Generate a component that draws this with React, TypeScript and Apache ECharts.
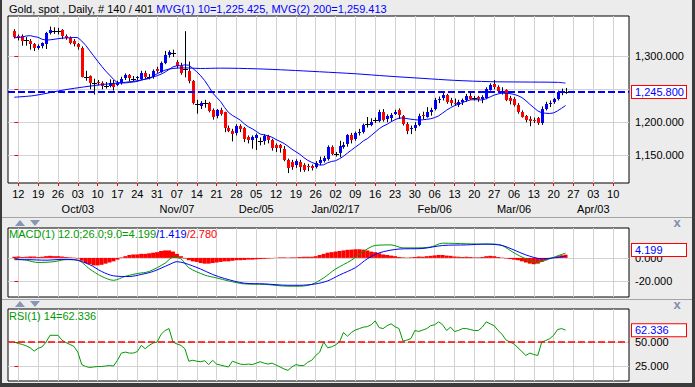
import React, { useEffect, useRef } from "react";
import * as echarts from "echarts";

// x position = weekday index, 0 = Fri 2016-09-09 ... 139 = Thu 2017-03-23
const ohlc: number[][] = [
  [1339,1341,1327,1330],[1330,1333,1324,1329],[1331,1333,1316,1323],[1324,1329,1316,1324],[1323,1326,1310,1319],
  [1319,1320,1308,1313],[1313,1318,1310,1316],[1315,1321,1312,1320],[1318,1337,1311,1335],[1335,1345,1333,1340],
  [1338,1344,1334,1338],[1338,1343,1333,1338],[1340,1341,1326,1331],[1331,1333,1325,1328],[1328,1330,1318,1321],
  [1323,1326,1315,1318],[1318,1320,1310,1313],[1313,1315,1268,1269],[1269,1278,1263,1269],[1270,1271,1250,1260],
  [1259,1266,1242,1259],[1261,1264,1256,1259],[1259,1262,1250,1255],[1255,1261,1251,1255],[1255,1265,1253,1259],
  [1259,1264,1248,1253],[1257,1263,1255,1260],[1260,1269,1257,1266],[1266,1274,1264,1271],[1271,1273,1262,1266],
  [1266,1270,1262,1266],[1266,1270,1263,1268],[1266,1278,1264,1275],[1275,1278,1266,1269],[1269,1273,1265,1269],
  [1270,1280,1266,1277],[1281,1284,1275,1278],[1277,1292,1275,1290],[1290,1308,1288,1302],[1302,1309,1298,1306],
  [1305,1310,1299,1305],[1292,1294,1282,1286],[1286,1290,1272,1276],[1281,1338,1268,1281],[1278,1292,1259,1263],
  [1262,1264,1227,1229],[1227,1234,1213,1227],[1225,1232,1220,1229],[1229,1234,1222,1229],[1229,1231,1215,1217],
  [1219,1221,1204,1209],[1209,1220,1206,1218],[1219,1222,1210,1213],[1215,1216,1185,1191],[1192,1195,1185,1188],
  [1187,1190,1171,1182],[1184,1197,1180,1194],[1195,1197,1185,1190],[1191,1193,1170,1174],[1178,1180,1168,1173],
  [1173,1180,1160,1178],[1175,1183,1158,1180],[1171,1177,1165,1171],[1171,1182,1166,1179],[1179,1181,1168,1173],
  [1173,1175,1157,1161],[1165,1168,1155,1160],[1166,1167,1154,1161],[1160,1164,1141,1143],[1143,1145,1123,1131],
  [1140,1143,1128,1133],[1135,1144,1131,1141],[1140,1143,1125,1133],[1136,1138,1125,1129],[1133,1137,1126,1131],
  [1133,1136,1127,1130],[1132,1141,1130,1138],[1138,1148,1135,1143],[1141,1149,1139,1146],[1145,1165,1142,1163],
  [1163,1165,1150,1152],[1152,1155,1148,1152],[1153,1172,1147,1164],[1163,1170,1160,1166],[1166,1182,1163,1180],
  [1181,1184,1168,1174],[1175,1186,1172,1184],[1184,1190,1180,1186],[1186,1198,1183,1196],[1197,1208,1192,1197],
  [1196,1206,1194,1201],[1203,1207,1199,1203],[1203,1219,1200,1216],[1216,1220,1201,1204],[1204,1212,1200,1209],
  [1207,1214,1202,1211],[1213,1219,1211,1216],[1218,1221,1205,1210],[1210,1211,1195,1198],[1198,1200,1182,1188],
  [1189,1195,1182,1191],[1191,1200,1187,1196],[1196,1213,1194,1210],[1211,1216,1205,1209],[1209,1223,1207,1216],
  [1216,1222,1210,1219],[1220,1237,1218,1234],[1234,1239,1229,1236],[1236,1245,1233,1241],[1241,1243,1228,1231],
  [1234,1237,1225,1229],[1229,1236,1225,1227],[1227,1234,1223,1231],[1231,1236,1226,1234],[1234,1243,1231,1240],
  [1240,1245,1234,1236],[1237,1240,1233,1237],[1238,1240,1231,1235],[1235,1241,1229,1238],[1237,1253,1235,1250],
  [1250,1259,1248,1257],[1258,1264,1250,1254],[1254,1256,1245,1248],[1248,1253,1242,1248],[1249,1250,1232,1234],
  [1237,1240,1227,1233],[1235,1238,1224,1226],[1226,1229,1213,1215],[1216,1218,1207,1209],[1209,1211,1200,1203],
  [1205,1209,1194,1202],[1204,1207,1199,1203],[1206,1208,1196,1199],[1199,1224,1196,1220],[1220,1231,1218,1227],
  [1227,1233,1223,1229],[1230,1237,1228,1235],[1235,1248,1233,1246],[1248,1251,1241,1248],[1245.8,1252,1243,1245.8],
];

const ma10: number[] = [
  1328.0,1328.5,1329.2,1330.7,1331.2,1329.8,1328.7,1325.7,1324.6,1324.9,
  1325.7,1326.6,1327.4,1327.8,1328.0,1328.5,1328.2,1323.1,1316.5,1308.5,
  1300.6,1292.7,1285.1,1277.8,1271.6,1265.1,1259.8,1259.5,1259.7,1260.3,
  1261.0,1261.9,1263.9,1265.3,1266.3,1268.7,1270.5,1272.9,1276.0,1280.0,
  1283.9,1285.7,1285.8,1287.0,1286.4,1281.6,1276.5,1270.4,1263.1,1254.2,
  1244.6,1237.8,1231.5,1222.5,1215.0,1210.3,1207.0,1203.1,1197.6,1193.2,
  1190.1,1186.3,1182.1,1180.9,1179.4,1177.3,1173.9,1171.0,1167.9,1163.7,
  1159.2,1155.3,1151.5,1146.5,1142.3,1139.2,1137.0,1135.2,1135.5,1138.7,
  1140.6,1141.7,1144.8,1148.5,1153.4,1157.8,1162.4,1166.7,1171.7,1175.1,
  1180.0,1185.1,1190.3,1194.1,1197.0,1200.7,1203.9,1206.3,1206.5,1205.6,
  1204.6,1203.9,1203.3,1203.8,1204.5,1205.3,1207.1,1209.7,1214.0,1218.3,
  1222.1,1225.2,1227.3,1229.8,1232.2,1233.9,1234.2,1234.1,1233.8,1235.7,
  1238.5,1241.2,1242.9,1244.3,1243.7,1243.4,1242.3,1240.3,1237.4,1232.7,
  1227.2,1222.1,1217.2,1214.4,1213.7,1213.3,1214.2,1217.3,1221.2,1225.4,
];

const ma200Idx = [0,5,13,22,30,34,36,38,40,43,47,52,61,69,77,86,94,103,111,120,128,137,139];
const ma200Val = [1238,1240.5,1249.5,1257,1262,1267,1273.5,1279,1281.5,1282.4,1281.5,1282,1281,1279,1276.5,1273.5,1270,1266.5,1263.5,1261.5,1261,1260.5,1259.4];

const macdIdx = [0,3,6,10,13,16,19,22,25,28,31,34,38,40,42,44,48,51,54,58,63,69,72,75,78,81,85,88,91,95,98,101,105,108,114,118,121,123,126,129,132,134,136,139];
const macdVal = [-0.8,-2,-4,-3.3,-1.5,-2,-9.7,-16,-19.5,-16,-13.6,-11.8,-4.6,0.5,-0.8,-8.5,-14.9,-17.4,-20,-22.6,-23,-24.6,-24.6,-23,-17.4,-9.7,-2,5.6,10.8,11.3,8.7,8.7,9.5,12.8,12.3,12,12,10.8,4.4,-0.8,-3.8,-2,0.5,4.199];

const signalIdx = [0,3,8,12,15,19,22,25,29,32,35,39,41,43,47,50,53,58,63,69,72,76,79,82,86,89,92,97,103,108,114,119,123,126,129,133,136,139];
const signalVal = [-1.5,-1.5,-2,-1.3,-1.5,-5.9,-11.8,-15.6,-16.2,-14.4,-11.8,-5.9,-3.3,-4.6,-9.7,-14.4,-17.9,-22,-22.6,-23.8,-23.8,-22.6,-20,-14.9,-8.5,-0.8,4.4,7.7,8.2,10.8,11.3,12,10.8,6.9,2.6,-0.8,0,1.419];

const histVal: number[] = [
  1,1.2,0.8,1,1.3,1.2,0.8,1,1.5,1.8,
  1.5,1.5,1.2,0.8,0.5,0.3,-0.5,-2.5,-4.5,-5.5,
  -6.5,-6.5,-6,-5,-4,-3,-1.5,0.5,1.5,2.5,
  3,3,3.5,3.5,4,4.5,5,6,6.5,6.5,
  5.5,3.5,1.5,-0.5,-2,-3,-3.5,-4.5,-5,-5,
  -4.5,-4,-3.5,-3,-3,-2.5,-2,-2,-1.8,-1.5,
  -1.5,-1.2,-1,-0.8,-0.5,-0.3,0.2,0.5,0.5,0.3,
  0.5,0.5,0.8,1,1,1,1.5,2.5,3.5,4.5,
  5,5.5,6,6.5,7,7.2,7.5,7.5,7.2,6.5,
  5.5,5,4,3,2.5,2,1.5,0.8,0.5,0.3,
  0.5,0.8,1.2,1,1.5,1.8,2.2,2.5,2.5,2,
  1.8,1.2,1,0.8,1,0.8,0.5,0.5,0.8,1.5,
  1.8,1.5,0.8,0.3,-0.5,-1,-1.5,-2,-3,-4,
  -5,-5.5,-5,-3.5,-2,-0.8,0.5,1.5,2.3,2.78,
];

const rsiVal: number[] = [
  50,48.5,47.5,46,44,40.5,43.5,45,50,57,
  57,57,52,49.5,47.5,45.5,39.5,26.5,24.5,23.5,
  24,24.5,24.5,25,25.5,25,31,38.5,39.5,38.5,
  38.5,40,46.5,43,46.5,49,50,58,62,64,
  50,48,46.5,43,30,31,30,29.5,30.5,26.5,
  31,27,26,25,24,30,28.5,27,26.5,27,
  26.5,28,29.5,28,27,28,26,24,22,20.5,
  24,26.5,25.5,25.5,29,31,36,39.5,50,44,
  45,47,50,60,56,60,62.5,64,65.5,66,
  68,72,65,64,67,69,66,64,51,52,
  53.5,62,61,62.5,64,67,68,71,68,62,
  65.5,61,62,64,64,63,62,62,65.5,71,
  69,67,62,58,52,50,48,44,40,36,
  38.5,37,36,50,51.5,53.5,57,63,64,62.336,
];

const weekLabels = ["12","19","26","03","10","17","24","31","07","14","21","28","05","12","19","26","02","09","16","23","30","06","13","20","27","06","13","20","27","03","10"];
const monthLabels = ["Oct/03","Nov/07","Dec/05","Jan/02/17","Feb/06","Mar/06","Apr/03"];
const monthIdx = [16,41,61,81,106,126,146];
const priceTicks = [1150,1200,1250,1300];
const priceLabels = [1150,1200,1300]; // 1,250.000 sits under the last-price box
const macdTicks = [-20,0];
const rsiTicks = [25,50];
const lastPrice = 1245.8;
const macdLast = 4.199;
const rsiLast = 62.336;

const FONT = "'Liberation Sans', Arial, sans-serif";
const X_MIN = -1.6;
const X_MAX = 155;
const weekIdx = weekLabels.map((_, i) => 1 + 5 * i);
const GRID_COLOR = "#d2d2d2";
const BLUE = "#0000ff";
const RED = "#ff0000";
const GREEN = "#009a00";
const CLEAR = "rgba(0,0,0,0)";

const fmt3 = (v: number) =>
  v.toLocaleString("en-US", { minimumFractionDigits: 3, maximumFractionDigits: 3 });

const boxLabel = (text: string, dy = 0) => ({
  show: true,
  position: "end",
  distance: 3,
  formatter: text,
  color: BLUE,
  fontSize: 11,
  fontFamily: FONT,
  lineHeight: 11,
  backgroundColor: "#ffffff",
  borderColor: RED,
  borderWidth: 1,
  padding: [1, 3, 0, 3],
  width: 48,
  align: "left",
  offset: [0, dy],
  opacity: 1,
});

function xAxisFor(gridIndex: number, labels: boolean) {
  return {
    type: "value",
    gridIndex,
    min: X_MIN,
    max: X_MAX,
    position: "bottom",
    axisLine: { show: false },
    axisTick: { show: labels, customValues: weekIdx, length: 3, lineStyle: { color: RED } },
    axisLabel: {
      show: labels,
      customValues: weekIdx,
      formatter: (v: number) => weekLabels[Math.round((v - 1) / 5)] ?? "",
      color: "#000",
      fontSize: 11,
      fontFamily: FONT,
      margin: 5,
    },
    splitLine: { show: true, lineStyle: { color: GRID_COLOR, width: 1 } },
  };
}

function yAxisFor(gridIndex: number, min: number, max: number, ticks: number[], labels: number[]) {
  return {
    type: "value",
    gridIndex,
    position: "right",
    min,
    max,
    axisLine: { show: false },
    axisTick: { show: true, customValues: ticks, length: 4, lineStyle: { color: RED } },
    axisLabel: {
      customValues: labels,
      formatter: (v: number) => fmt3(v),
      color: "#000",
      fontSize: 11,
      fontFamily: FONT,
      margin: 6,
    },
    splitLine: { show: true, lineStyle: { color: GRID_COLOR, width: 1 } },
  };
}

function candleItem(params: any, api: any) {
  const x = api.value(0);
  const o = api.value(1);
  const h = api.value(2);
  const l = api.value(3);
  const c = api.value(4);
  const pO = api.coord([x, o]);
  const pC = api.coord([x, c]);
  const pH = api.coord([x, h]);
  const pL = api.coord([x, l]);
  const px = Math.round(pO[0]);
  const cx = px + 0.5;
  const children: any[] = [
    { type: "line", shape: { x1: cx, y1: pH[1], x2: cx, y2: pL[1] }, style: { stroke: "#000", lineWidth: 1 } },
  ];
  if (o === c) {
    const yy = Math.round(pO[1]) + 0.5;
    children.push({ type: "line", shape: { x1: px - 2, y1: yy, x2: px + 3, y2: yy }, style: { stroke: "#000", lineWidth: 1 } });
  } else {
    const top = Math.round(Math.min(pO[1], pC[1]));
    const hgt = Math.max(1, Math.round(Math.abs(pO[1] - pC[1])));
    children.push({ type: "rect", shape: { x: px - 1, y: top, width: 3, height: hgt }, style: { fill: c > o ? BLUE : RED } });
  }
  return { type: "group", children };
}

export default function App() {
  const ref = useRef<HTMLDivElement>(null);
  useEffect(() => {
    if (!ref.current) return;
    const chart = echarts.init(ref.current, undefined, { renderer: "svg" });
    const option: any = {
      animation: false,
      backgroundColor: "#ececec",
      textStyle: { fontFamily: FONT },
      grid: [
        { left: 8, top: 16, width: 621, height: 167, show: true, backgroundColor: "#fff", borderColor: "#000", borderWidth: 1 },
        { left: 8, top: 228, width: 621, height: 69, show: true, backgroundColor: "#fff", borderColor: "#000", borderWidth: 1 },
        { left: 8, top: 309, width: 621, height: 72, show: true, backgroundColor: "#fff", borderColor: "#000", borderWidth: 1 },
      ],
      xAxis: [
        xAxisFor(0, true),
        {
          type: "value",
          gridIndex: 0,
          min: X_MIN,
          max: X_MAX,
          position: "bottom",
          offset: 16,
          axisLine: { show: false },
          axisTick: { show: false, customValues: monthIdx },
          axisLabel: {
            customValues: monthIdx,
            formatter: (v: number) => monthLabels[monthIdx.indexOf(Math.round(v))] ?? "",
            color: "#000",
            fontSize: 11,
            fontFamily: FONT,
            margin: 4,
          },
          splitLine: { show: false },
        },
        xAxisFor(1, false),
        xAxisFor(2, false),
      ],
      yAxis: [
        yAxisFor(0, 1108, 1361, priceTicks, priceLabels),
        yAxisFor(1, -34, 26, macdTicks, macdTicks),
        yAxisFor(2, 9.4, 84.4, rsiTicks, rsiTicks),
      ],
      series: [
        {
          type: "custom",
          name: "Gold",
          xAxisIndex: 0,
          yAxisIndex: 0,
          clip: true,
          z: 3,
          renderItem: candleItem,
          encode: { x: 0, y: [1, 2, 3, 4] },
          data: ohlc.map((r, i) => [i, r[0], r[1], r[2], r[3]]),
        },
        {
          type: "line",
          name: "MVG(1) 10",
          xAxisIndex: 0,
          yAxisIndex: 0,
          symbol: "none",
          z: 4,
          lineStyle: { color: BLUE, width: 1 },
          itemStyle: { color: BLUE },
          data: ma10.map((v, i) => [i, v]),
          markLine: {
            silent: true,
            symbol: "none",
            animation: false,
            data: [{ yAxis: lastPrice }],
            lineStyle: { color: BLUE, type: [7, 3], width: 2 },
            label: boxLabel(fmt3(lastPrice)),
          },
        },
        {
          type: "line",
          name: "MVG(2) 200",
          xAxisIndex: 0,
          yAxisIndex: 0,
          symbol: "none",
          smooth: 0.3,
          z: 4,
          lineStyle: { color: BLUE, width: 1 },
          data: ma200Idx.map((d, k) => [d, ma200Val[k]]),
        },
        {
          type: "bar",
          name: "hist",
          xAxisIndex: 2,
          yAxisIndex: 1,
          barWidth: 4,
          itemStyle: { color: RED },
          data: histVal.map((v, i) => [i, v]),
        },
        {
          type: "line",
          name: "MACD",
          xAxisIndex: 2,
          yAxisIndex: 1,
          symbol: "none",
          smooth: 0.3,
          z: 4,
          lineStyle: { color: GREEN, width: 1 },
          data: macdIdx.map((d, k) => [d, macdVal[k]]),
          markLine: {
            silent: true,
            symbol: "none",
            animation: false,
            data: [{ yAxis: macdLast }],
            lineStyle: { color: CLEAR, width: 1 },
            label: boxLabel(macdLast.toFixed(3), -3),
          },
        },
        {
          type: "line",
          name: "Signal",
          xAxisIndex: 2,
          yAxisIndex: 1,
          symbol: "none",
          smooth: 0.3,
          z: 4,
          lineStyle: { color: BLUE, width: 1 },
          data: signalIdx.map((d, k) => [d, signalVal[k]]),
        },
        {
          type: "line",
          name: "RSI",
          xAxisIndex: 3,
          yAxisIndex: 2,
          symbol: "none",
          z: 4,
          lineStyle: { color: GREEN, width: 1 },
          data: rsiVal.map((v, i) => [i, v]),
          markLine: {
            silent: true,
            symbol: "none",
            animation: false,
            data: [
              { yAxis: 50, lineStyle: { color: RED, type: [7, 3], width: 1.5 }, label: { show: false } },
              { yAxis: rsiLast, lineStyle: { color: CLEAR, width: 1 }, label: boxLabel(rsiLast.toFixed(3)) },
            ],
          },
        },
      ],
      graphic: [
        {
          type: "text",
          x: 9,
          y: 9,
          style: {
            text: "{k|Gold, spot , Daily, # 140 / 401 }{b|MVG(1) 10=1,225.425, MVG(2) 200=1,259.413}",
            verticalAlign: "middle",
            rich: {
              k: { fill: "#000", fontSize: 11, fontFamily: FONT },
              b: { fill: BLUE, fontSize: 11, fontFamily: FONT },
            },
          },
        },
        {
          type: "text",
          x: 9,
          y: 234,
          z: 100,
          style: {
            text: "{g|MACD(1) 12.0;26.0;9.0=4.199}{b|/1.419}{r|/2.780}",
            verticalAlign: "middle",
            rich: {
              g: { fill: GREEN, fontSize: 11, fontFamily: FONT },
              b: { fill: BLUE, fontSize: 11, fontFamily: FONT },
              r: { fill: RED, fontSize: 11, fontFamily: FONT },
            },
          },
        },
        {
          type: "text",
          x: 9,
          y: 315.5,
          z: 100,
          style: { text: "RSI(1) 14=62.336", fill: GREEN, fontSize: 11, fontFamily: FONT, verticalAlign: "middle" },
        },
        { type: "line", shape: { x1: 2, y1: 217.5, x2: 692, y2: 217.5 }, style: { stroke: "#a4a4a4", lineWidth: 1 } },
        { type: "line", shape: { x1: 2, y1: 299.5, x2: 692, y2: 299.5 }, style: { stroke: "#a4a4a4", lineWidth: 1 } },
        { type: "polygon", shape: { points: [[15, 226], [20, 220], [25, 226]] }, style: { fill: "#8796b4" } },
        { type: "polygon", shape: { points: [[30, 220], [40, 220], [35, 226]] }, style: { fill: "#8796b4" } },
        { type: "polygon", shape: { points: [[15, 307], [20, 301], [25, 307]] }, style: { fill: "#8796b4" } },
        { type: "polygon", shape: { points: [[30, 301], [40, 301], [35, 307]] }, style: { fill: "#8796b4" } },
        { type: "text", x: 677, y: 222.5, style: { text: "x", fill: "#7f8fae", fontSize: 13, fontWeight: "bold", fontFamily: FONT, align: "center", verticalAlign: "middle" } },
        { type: "text", x: 677, y: 304, style: { text: "x", fill: "#7f8fae", fontSize: 13, fontWeight: "bold", fontFamily: FONT, align: "center", verticalAlign: "middle" } },
        { type: "rect", shape: { x: 0, y: 0, width: 2, height: 387 }, style: { fill: "#3c3c3c" } },
        { type: "rect", shape: { x: 692, y: 0, width: 3, height: 387 }, style: { fill: "#3c3c3c" } },
        { type: "rect", shape: { x: 0, y: 383, width: 695, height: 4 }, style: { fill: "#3c3c3c" } },
      ],
    };
    chart.setOption(option);
    return () => chart.dispose();
  }, []);
  return <div ref={ref} style={{ position: "fixed", left: 0, top: 0, width: 695, height: 387 }} />;
}
